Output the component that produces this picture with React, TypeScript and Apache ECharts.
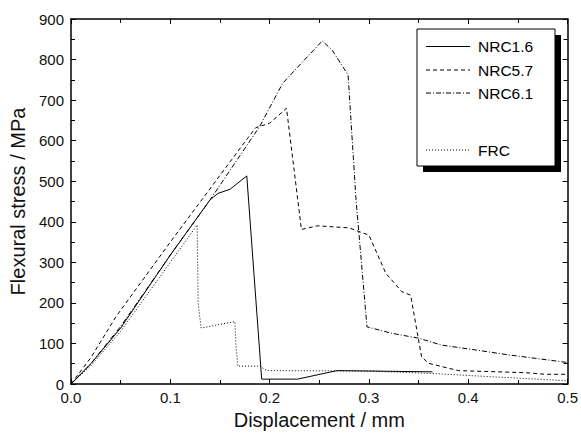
import React, { useEffect, useRef } from "react";
import * as echarts from "echarts";

const nrc16X = [0, 0.02, 0.05, 0.1, 0.14, 0.148, 0.16, 0.177, 0.192, 0.228, 0.268, 0.364];
const nrc16Y = [0, 50, 138, 318, 454, 470, 480, 513, 12, 12, 33, 30];

const nrc57X = [0, 0.02, 0.045, 0.1, 0.128, 0.162, 0.176, 0.186, 0.2, 0.217, 0.232, 0.248, 0.28, 0.3, 0.317, 0.333, 0.342, 0.353, 0.36, 0.39, 0.457, 0.477, 0.5];
const nrc57Y = [0, 65, 165, 350, 442, 554, 600, 632, 643, 680, 381, 390, 385, 367, 273, 228, 219, 67, 51, 33, 28, 24, 24];

const nrc61X = [0, 0.02, 0.05, 0.1, 0.14, 0.19, 0.213, 0.227, 0.253, 0.263, 0.279, 0.287, 0.298, 0.323, 0.35, 0.373, 0.407, 0.44, 0.5];
const nrc61Y = [0, 50, 142, 318, 454, 635, 741, 778, 846, 823, 762, 454, 141, 125, 113, 96, 84, 72, 53];

const frcX = [0, 0.02, 0.05, 0.1, 0.125, 0.127, 0.128, 0.131, 0.165, 0.166, 0.168, 0.19, 0.197, 0.3, 0.363, 0.423, 0.5];
const frcY = [0, 45, 130, 300, 385, 392, 200, 138, 154, 100, 44, 44, 33, 32, 26, 18, 8];

const legendNames = ["NRC1.6", "NRC5.7", "NRC6.1", "FRC"];
const xTicks = [0, 0.1, 0.2, 0.3, 0.4, 0.5];

const dashed = [4, 3];
const dashDot = [5, 2, 1, 2];
const dotted = [1, 2];

const zip = (xs: number[], ys: number[]) => xs.map((x, i) => [x, ys[i]]);

export default function App() {
  const ref = useRef<HTMLDivElement>(null);
  useEffect(() => {
    if (!ref.current) return;
    const chart = echarts.init(ref.current, undefined, { renderer: "svg" });
    const font = "Liberation Sans, Arial, Helvetica, sans-serif";
    const axisLine = { show: true, onZero: false, lineStyle: { color: "#000", width: 1.5 } };
    const tick = { show: true, inside: true, length: 5, lineStyle: { color: "#000", width: 1 } };
    const minor = { show: true, splitNumber: 2, length: 4, lineStyle: { color: "#000", width: 1 } };
    const lineSeries = (name: string, data: number[][], type: any) => ({
      name,
      type: "line",
      data,
      showSymbol: false,
      symbol: "none",
      lineStyle: { color: "#000", width: 1, type },
      xAxisIndex: 0,
      yAxisIndex: 0,
    });
    const lx = 426, lx2 = 470, tx = 478;
    const rows = [46.5, 70, 93, 150];
    const styles = [undefined, dashed, dashDot, dotted];
    const legendEls: any[] = [
      { type: "rect", shape: { x: 423, y: 35, width: 138, height: 137 }, style: { fill: "#000" } },
      { type: "rect", shape: { x: 417, y: 29, width: 138, height: 137 }, style: { fill: "#fff", stroke: "#000", lineWidth: 1 } },
    ];
    legendNames.forEach((n, i) => {
      legendEls.push({
        type: "line",
        shape: { x1: lx, y1: rows[i], x2: lx2, y2: rows[i] },
        style: { stroke: "#000", lineWidth: 1, lineDash: styles[i] || null },
      });
      legendEls.push({
        type: "text",
        x: tx,
        y: rows[i],
        style: { text: n, fill: "#000", font: `15.5px ${font}`, textVerticalAlign: "middle", verticalAlign: "middle" },
      });
    });
    chart.setOption({
      animation: false,
      backgroundColor: "#fff",
      textStyle: { fontFamily: font },
      grid: { left: 70, right: 11, top: 19, bottom: 51, containLabel: false },
      xAxis: [
        {
          type: "value",
          min: 0,
          max: 0.5,
          interval: 0.1,
          position: "bottom",
          name: "Displacement / mm",
          nameLocation: "middle",
          nameGap: 19,
          nameTextStyle: { fontSize: 20, color: "#111", fontFamily: font },
          axisLine,
          axisTick: tick,
          minorTick: minor,
          splitLine: { show: false },
          axisLabel: {
            margin: 6,
            fontSize: 15,
            color: "#111",
            fontFamily: font,
            formatter: (v: number) => v.toFixed(1),
            customValues: xTicks,
          },
        },
        {
          type: "value",
          min: 0,
          max: 0.5,
          interval: 0.1,
          position: "top",
          axisLine,
          axisTick: tick,
          minorTick: minor,
          splitLine: { show: false },
          axisLabel: { show: false },
        },
      ],
      yAxis: [
        {
          type: "value",
          min: 0,
          max: 900,
          interval: 100,
          position: "left",
          name: "Flexural stress / MPa",
          nameLocation: "middle",
          nameGap: 43,
          nameTextStyle: { fontSize: 20, color: "#111", fontFamily: font },
          axisLine,
          axisTick: tick,
          minorTick: minor,
          splitLine: { show: false },
          axisLabel: { margin: 7, fontSize: 15, color: "#111", fontFamily: font },
        },
        {
          type: "value",
          min: 0,
          max: 900,
          interval: 100,
          position: "right",
          axisLine,
          axisTick: tick,
          minorTick: minor,
          splitLine: { show: false },
          axisLabel: { show: false },
        },
      ],
      series: [
        lineSeries("NRC1.6", zip(nrc16X, nrc16Y), "solid"),
        lineSeries("NRC5.7", zip(nrc57X, nrc57Y), dashed),
        lineSeries("NRC6.1", zip(nrc61X, nrc61Y), dashDot),
        lineSeries("FRC", zip(frcX, frcY), dotted),
      ],
      graphic: legendEls,
    });
    return () => chart.dispose();
  }, []);
  return <div ref={ref} style={{ width: 581, height: 435, position: "absolute", left: 0, top: 0 }} />;
}
